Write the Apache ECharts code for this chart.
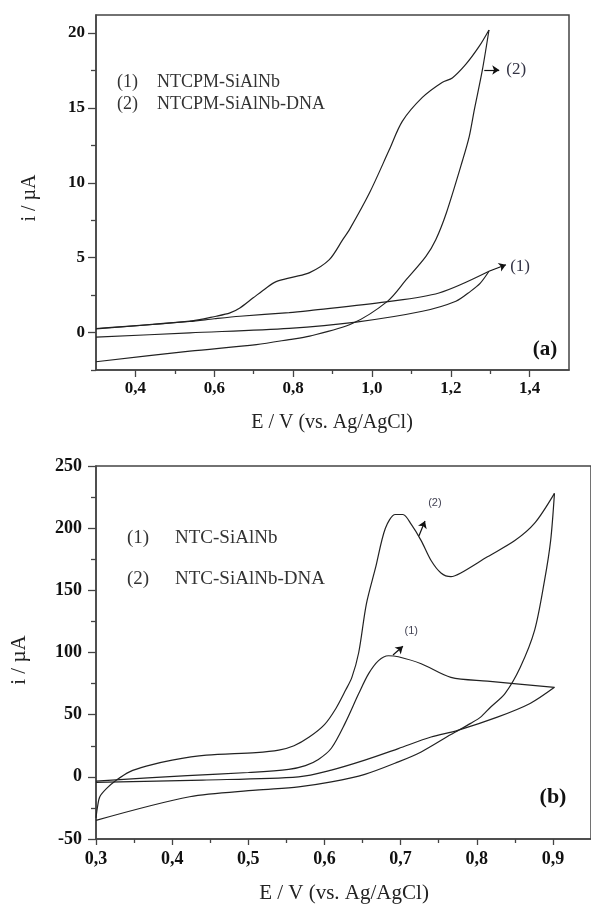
<!DOCTYPE html>
<html>
<head>
<meta charset="utf-8">
<script src="https://cdn.jsdelivr.net/npm/echarts@6/dist/echarts.min.js"></script>
<style>
  html, body { margin: 0; padding: 0; background: #fff; }
  #chart { width: 591px; height: 904px; }
</style>
</head>
<body>
<div id="chart"></div>
<script>
// ---- Panel (a): NTCPM electrodes, E / V vs i / µA ----
const aTickLabelsX = [0.4, 0.6, 0.8, 1.0, 1.2, 1.4];
const aMinorX = [0.5, 0.7, 0.9, 1.1, 1.3];
const aTickLabelsY = [0, 5, 10, 15, 20];
const aMinorY = [-2.5, 2.5, 7.5, 12.5, 17.5];

// (1) NTCPM-SiAlNb: anodic and cathodic branches
const a1FwdE = [0.30, 0.538, 0.79, 0.96, 1.128, 1.213, 1.25, 1.275, 1.297];
const a1FwdI = [-0.31, -0.02, 0.28, 0.70, 1.42, 2.09, 2.75, 3.3, 4.09];
const a1RevE = [1.297, 1.17, 1.036, 0.842, 0.79, 0.665, 0.60, 0.538, 0.30];
const a1RevI = [4.09, 2.64, 2.05, 1.47, 1.33, 1.09, 0.92, 0.74, 0.25];

// (2) NTCPM-SiAlNb-DNA
const a2FwdE = [0.30, 0.538, 0.605, 0.64, 0.665, 0.698, 0.732, 0.757, 0.80, 0.842, 0.892, 0.926, 0.943, 0.994, 1.044, 1.077, 1.128, 1.178, 1.204, 1.238, 1.272, 1.297];
const a2FwdI = [0.27, 0.76, 1.09, 1.31, 1.64, 2.30, 2.98, 3.40, 3.70, 4.00, 4.87, 6.20, 6.87, 9.33, 12.2, 14.1, 15.7, 16.7, 17.0, 17.9, 19.1, 20.2];
const a2RevE = [1.297, 1.28, 1.26, 1.247, 1.23, 1.189, 1.162, 1.137, 1.087, 1.04, 0.95, 0.842, 0.79, 0.707, 0.538, 0.30];
const a2RevI = [20.2, 17.5, 14.9, 13.1, 11.5, 8.0, 6.2, 5.09, 3.53, 2.1, 0.6, -0.24, -0.47, -0.80, -1.24, -1.95];

// ---- Panel (b): NTC electrodes ----
const bTickLabelsX = [0.3, 0.4, 0.5, 0.6, 0.7, 0.8, 0.9];
const bMinorX = [0.35, 0.45, 0.55, 0.65, 0.75, 0.85];
const bTickLabelsY = [-50, 0, 50, 100, 150, 200, 250];
const bMinorY = [-25, 25, 75, 125, 175, 225];

// (1) NTC-SiAlNb
const b1FwdE = [0.30, 0.42, 0.50, 0.553, 0.575, 0.592, 0.609, 0.627, 0.645, 0.658, 0.671, 0.684, 0.697, 0.727, 0.766, 0.814, 0.902];
const b1FwdI = [-3.5, 1, 3.5, 6, 9, 14, 23, 43, 67, 83, 93.5, 97.4, 96.6, 91, 80, 77, 72];
const b1RevE = [0.902, 0.87, 0.827, 0.775, 0.74, 0.697, 0.653, 0.609, 0.566, 0.44, 0.30];
const b1RevI = [72, 59, 48, 37.4, 32, 22.7, 13.4, 5.4, 0, -2.6, -4.5];

// (2) NTC-SiAlNb-DNA
const b2FwdE = [0.30, 0.302, 0.305, 0.314, 0.327, 0.344, 0.366, 0.40, 0.445, 0.51, 0.54, 0.56, 0.58, 0.60, 0.615, 0.628, 0.636, 0.645, 0.655, 0.667, 0.68, 0.693, 0.703, 0.714, 0.727, 0.74, 0.753, 0.766, 0.779, 0.814, 0.85, 0.876, 0.902];
const b2FwdI = [-33, -24, -16, -9.3, -2.6, 4, 8.6, 13.4, 17.4, 19.5, 21.5, 25, 32, 42, 55, 70, 80, 100, 139, 168, 200, 211, 211, 203, 190, 174, 164, 161, 164, 177, 190, 204, 228];
const b2RevE = [0.902, 0.897, 0.889, 0.876, 0.857, 0.837, 0.818, 0.805, 0.792, 0.766, 0.727, 0.697, 0.653, 0.609, 0.566, 0.51, 0.423, 0.30];
const b2RevI = [228, 190, 158, 118, 88, 67, 56, 48, 43, 34, 20, 12, 2, -4, -8, -10.7, -16, -35];

const zip = (xs, ys) => xs.map((x, k) => [x, ys[k]]);
const comma = (v, d) => v.toFixed(d).replace('.', ',');

const SERIF = '"Liberation Serif", "Times New Roman", serif';
const SANS = '"Liberation Sans", Arial, sans-serif';
const AXIS_COLOR = '#444';
const CURVE_COLOR = '#222';

function curve(name, data, xi, yi, extra) {
  return Object.assign({
    name: name,
    type: 'line',
    xAxisIndex: xi,
    yAxisIndex: yi,
    data: data,
    smooth: 0.3,
    showSymbol: false,
    symbol: 'none',
    silent: true,
    lineStyle: { color: CURVE_COLOR, width: 1.2 },
    z: 3
  }, extra || {});
}

function arrowLine(from, to) {
  return [{ coord: from }, { coord: to }];
}

function tag(coord, text) {
  return { coord: coord, name: text };
}

function axisPair(kind, grid, min, max, major, minor, majLen, minLen, fontSize, margin, digits) {
  const base = {
    type: 'value', gridIndex: grid, min: min, max: max,
    splitLine: { show: false }
  };
  const main = Object.assign({}, base, {
    axisLine: { show: true, onZero: false, lineStyle: { color: AXIS_COLOR, width: 1.5 } },
    axisTick: { show: true, inside: false, length: majLen, customValues: major, lineStyle: { color: AXIS_COLOR, width: 1.3 } },
    axisLabel: {
      show: true, customValues: major, margin: margin,
      fontFamily: SERIF, fontWeight: 'bold', fontSize: fontSize, color: '#111',
      formatter: v => digits ? comma(v, digits) : String(v)
    }
  });
  const sub = Object.assign({}, base, {
    axisLine: { show: false, onZero: false },
    axisTick: { show: true, inside: false, length: minLen, customValues: minor, lineStyle: { color: AXIS_COLOR, width: 1.3 } },
    axisLabel: { show: false }
  });
  if (kind === 'x') { main.position = 'bottom'; sub.position = 'bottom'; }
  else { main.position = 'left'; sub.position = 'left'; }
  return [main, sub];
}

const xAxes = [].concat(
  axisPair('x', 0, 0.3, 1.5, aTickLabelsX, aMinorX, 7, 4, 17, 10, 1),
  axisPair('x', 1, 0.3, 0.95, bTickLabelsX, bMinorX, 6, 4, 18, 11, 1)
);
const yAxes = [].concat(
  axisPair('y', 0, -2.5, 21.2, aTickLabelsY, aMinorY, 8, 5, 17, 11, 0),
  axisPair('y', 1, -50, 250, bTickLabelsY, bMinorY, 8, 5, 18, 14, 0)
);

const arrowStyle = {
  silent: true,
  symbol: ['none', 'arrow'],
  symbolSize: 7,
  lineStyle: { color: '#111', width: 1.2, type: 'solid' },
  label: { show: false },
  emphasis: { disabled: true }
};

function markers(lines, tags, font) {
  return {
    markLine: Object.assign({}, arrowStyle, { data: lines }),
    markPoint: {
      silent: true,
      symbol: 'circle',
      symbolSize: 1,
      itemStyle: { color: 'rgba(0,0,0,0)' },
      label: Object.assign({ show: true, position: 'inside', formatter: '{b}' }, font),
      data: tags
    }
  };
}

const series = [
  curve('NTCPM-SiAlNb', zip(a1FwdE, a1FwdI), 0, 0),
  curve('NTCPM-SiAlNb', zip(a1RevE, a1RevI), 0, 0, markers(
    [arrowLine([1.297, 4.09], [1.34, 4.53])],
    [tag([1.376, 4.4], '(1)')],
    { fontFamily: SERIF, fontSize: 17, color: '#334' }
  )),
  curve('NTCPM-SiAlNb-DNA', zip(a2FwdE, a2FwdI), 0, 0),
  curve('NTCPM-SiAlNb-DNA', zip(a2RevE, a2RevI), 0, 0, markers(
    [arrowLine([1.285, 17.53], [1.323, 17.53])],
    [tag([1.366, 17.53], '(2)')],
    { fontFamily: SERIF, fontSize: 17, color: '#334' }
  )),
  curve('NTC-SiAlNb', zip(b1FwdE, b1FwdI), 2, 2, markers(
    [arrowLine([0.69, 98], [0.703, 105])],
    [tag([0.714, 117], '(1)')],
    { fontFamily: SANS, fontSize: 11, color: '#445' }
  )),
  curve('NTC-SiAlNb', zip(b1RevE, b1RevI), 2, 2),
  curve('NTC-SiAlNb-DNA', zip(b2FwdE, b2FwdI), 2, 2, markers(
    [arrowLine([0.724, 193.7], [0.732, 205.7])],
    [tag([0.745, 220], '(2)')],
    { fontFamily: SANS, fontSize: 11, color: '#445' }
  )),
  curve('NTC-SiAlNb-DNA', zip(b2RevE, b2RevI), 2, 2)
];

function text(str, x, y, size, opts) {
  opts = opts || {};
  return {
    type: 'text',
    x: x, y: y,
    rotation: opts.rotation || 0,
    silent: true,
    z: 10,
    style: {
      text: str,
      font: (opts.bold ? 'bold ' : '') + size + 'px ' + SERIF,
      fill: opts.color || '#222',
      align: opts.align || 'left',
      verticalAlign: 'middle',
      textAlign: opts.align || 'left',
      textVerticalAlign: 'middle'
    }
  };
}

const graphics = [
  // panel (a) key
  text('(1)', 117, 82, 18, { color: '#333' }),
  text('NTCPM-SiAlNb', 157, 82, 18, { color: '#333' }),
  text('(2)', 117, 104, 18, { color: '#333' }),
  text('NTCPM-SiAlNb-DNA', 157, 104, 18, { color: '#333' }),
  text('(a)', 545, 350, 21, { bold: true, align: 'center', color: '#111' }),
  text('E / V (vs. Ag/AgCl)', 332, 423, 20, { align: 'center' }),
  text('i / µA', 30, 198, 20, { align: 'center', rotation: Math.PI / 2 }),
  // panel (b) key
  text('(1)', 127, 538, 19, { color: '#333' }),
  text('NTC-SiAlNb', 175, 538, 19, { color: '#333' }),
  text('(2)', 127, 579, 19, { color: '#333' }),
  text('NTC-SiAlNb-DNA', 175, 579, 19, { color: '#333' }),
  text('(b)', 553, 797, 22, { bold: true, align: 'center', color: '#111' }),
  text('E / V (vs. Ag/AgCl)', 344, 893, 21, { align: 'center' }),
  text('i / µA', 19, 660, 21, { align: 'center', rotation: Math.PI / 2 })
];

const chart = echarts.init(document.getElementById('chart'), null, { renderer: 'canvas' });
chart.setOption({
  animation: false,
  backgroundColor: '#fff',
  grid: [
    { left: 96, top: 15, width: 473, height: 355, show: true, borderColor: AXIS_COLOR, borderWidth: 1.5, containLabel: false },
    { left: 96, top: 466, width: 498, height: 373, show: true, borderColor: AXIS_COLOR, borderWidth: 1.5, containLabel: false }
  ],
  xAxis: xAxes,
  yAxis: yAxes,
  series: series,
  graphic: graphics
});
</script>
</body>
</html>
